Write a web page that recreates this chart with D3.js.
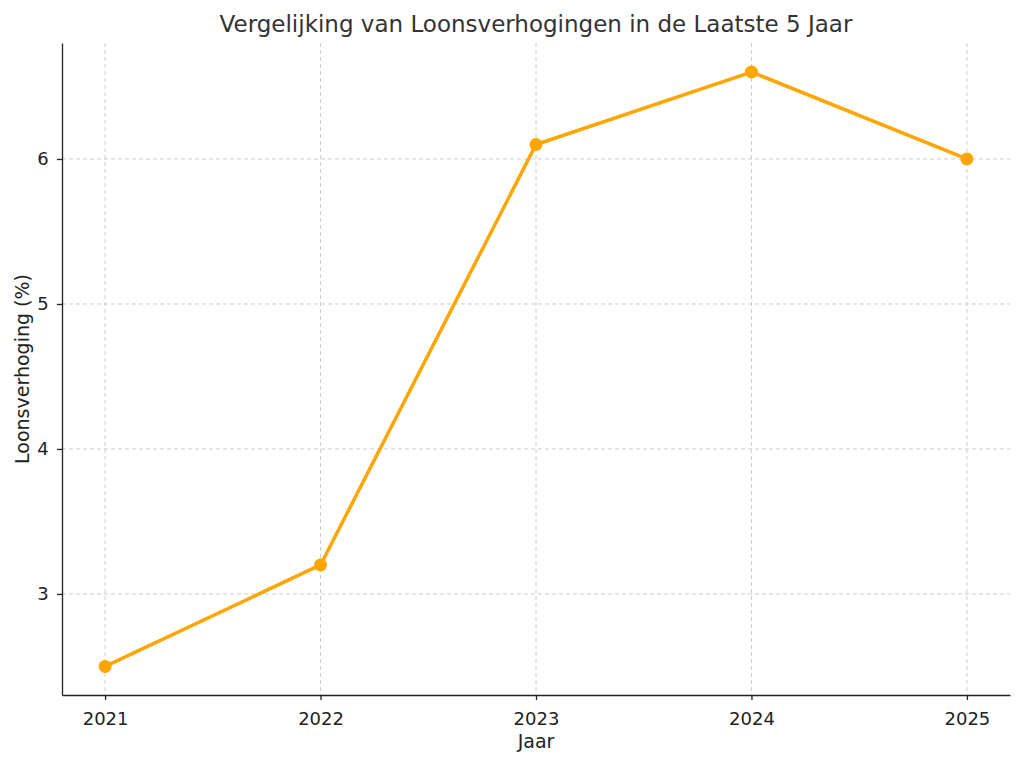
<!DOCTYPE html>
<html><head><meta charset="utf-8">
<script src="https://cdn.jsdelivr.net/npm/d3@7"></script>
<style>body{margin:0;background:#fff}</style></head>
<body><svg id="c" width="1024" height="765"></svg>
<script>
const years = [2021, 2022, 2023, 2024, 2025];
const values = [2.5, 3.2, 6.1, 6.6, 6.0];
const yTicks = [3, 4, 5, 6];
const title = "Vergelijking van Loonsverhogingen in de Laatste 5 Jaar";
const xLabel = "Jaar", yLabel = "Loonsverhoging (%)";

const svg = d3.select("#c");
const L = 62, R = 1010, T = 43, B = 695;
const font = "DejaVu Sans, sans-serif";
const x = d3.scaleLinear().domain([2020.8, 2025.2]).range([L, R]);
const y = d3.scaleLinear().domain([2.303, 6.8]).range([B, T]);

const g = svg.append("g");
g.selectAll(".gx").data(years).enter().append("line")
  .attr("x1", d => x(d)).attr("x2", d => x(d)).attr("y1", T).attr("y2", B)
  .attr("stroke", "#ccc").attr("stroke-dasharray", "4,3");
g.selectAll(".gy").data(yTicks).enter().append("line")
  .attr("y1", d => y(d)).attr("y2", d => y(d)).attr("x1", L).attr("x2", R)
  .attr("stroke", "#ccc").attr("stroke-dasharray", "4,3");

const xa = svg.append("g").attr("transform", `translate(0,${B})`)
  .call(d3.axisBottom(x).tickValues(years).tickFormat(d3.format("d")).tickSize(5).tickSizeOuter(0));
const ya = svg.append("g").attr("transform", `translate(${L},0)`)
  .call(d3.axisLeft(y).tickValues(yTicks).tickFormat(d3.format("d")).tickSize(5).tickSizeOuter(0));
[xa, ya].forEach(a => {
  a.attr("font-size", null).attr("font-family", null);
  a.selectAll("text").style("font-family", font).style("font-size", "18px").attr("fill", "#222");
  a.selectAll("line,path").attr("stroke", "#222").attr("stroke-width", 1.3);
});
xa.selectAll("text").attr("dy", "1.2em");
ya.selectAll("text").attr("dx", "-0.3em");

const line = d3.line().x((d, i) => x(years[i])).y(d => y(d));
svg.append("path").datum(values).attr("d", line).attr("fill", "none")
  .attr("stroke", "#FFA500").attr("stroke-width", 3.5);
svg.selectAll(".pt").data(values).enter().append("circle")
  .attr("cx", (d, i) => x(years[i])).attr("cy", d => y(d)).attr("r", 6.5).attr("fill", "#FFA500");

svg.append("text").attr("x", (L + R) / 2).attr("y", 32).attr("text-anchor", "middle")
  .style("font-family", font).style("font-size", "23px").attr("fill", "#333").text(title);
svg.append("text").attr("x", (L + R) / 2 + 0).attr("y", 748).attr("text-anchor", "middle")
  .style("font-family", font).style("font-size", "19px").attr("fill", "#222").text(xLabel);
svg.append("text").attr("transform", `translate(29,${(T + B) / 2}) rotate(-90)`).attr("text-anchor", "middle")
  .style("font-family", font).style("font-size", "19px").attr("fill", "#222").text(yLabel);
</script></body></html>
